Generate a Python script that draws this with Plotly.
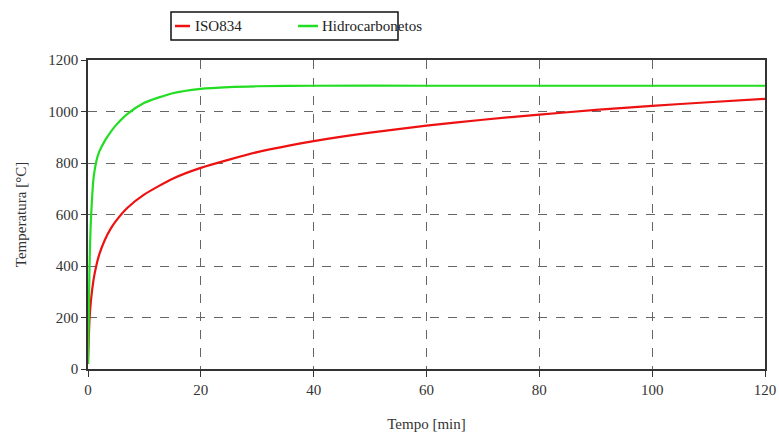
import plotly.graph_objects as go

# Tempo [min]
tempo_iso = [0, 0.25, 0.5, 1, 1.5, 2, 3, 4, 5, 7, 10, 15, 20, 30, 40, 50, 60, 70, 80, 90, 100, 110, 120]
temp_iso = [20, 185, 261, 349, 404, 445, 502, 544, 576, 626, 678, 739, 781, 842, 885, 918, 945, 968, 988, 1006, 1022, 1036, 1049]

tempo_hc = [0, 0.25, 0.5, 1, 1.5, 2, 3, 4, 5, 7, 10, 15, 20, 25, 30, 40, 60, 80, 100, 120]
temp_hc = [20, 373, 569, 744, 809, 844, 887, 920, 948, 991, 1034, 1071, 1088, 1095, 1098, 1100, 1100, 1100, 1100, 1100]

series_names = ["ISO834", "Hidrocarbonetos"]
series_colors = ["#ee1111", "#22dd22"]

x_ticks = [0, 20, 40, 60, 80, 100, 120]
y_ticks = [0, 200, 400, 600, 800, 1000, 1200]

font_family = "Times New Roman"

fig = go.Figure()
fig.add_trace(go.Scatter(x=tempo_iso, y=temp_iso, mode="lines", name=series_names[0],
                         line=dict(color=series_colors[0], width=2.2, shape="spline", smoothing=0.6)))
fig.add_trace(go.Scatter(x=tempo_hc, y=temp_hc, mode="lines", name=series_names[1],
                         line=dict(color=series_colors[1], width=2.2, shape="spline", smoothing=0.6)))

# Legend drawn manually (boxed, short line samples)
fig.add_shape(type="rect", xref="paper", yref="paper", x0=0.1226, x1=0.4579, y0=1.0647, y1=1.1553,
              line=dict(color="#111111", width=1.5), fillcolor="white")
legend_items = [(0.1285, 0.1507, 0.1551), (0.3102, 0.3397, 0.3427)]
for (lx0, lx1, tx), name, col in zip(legend_items, series_names, series_colors):
    fig.add_shape(type="line", xref="paper", yref="paper", x0=lx0, x1=lx1, y0=1.110, y1=1.110,
                  line=dict(color=col, width=2.5))
    fig.add_annotation(xref="paper", yref="paper", x=tx, y=1.110, text=name, showarrow=False,
                       xanchor="left", yanchor="middle",
                       font=dict(family=font_family, size=15, color="#222222"))

fig.update_layout(
    width=779, height=435,
    margin=dict(l=88, r=14, t=60, b=66),
    paper_bgcolor="white", plot_bgcolor="white",
    font=dict(family=font_family, size=15, color="#333333"),
    showlegend=False,
    xaxis=dict(range=[0, 120], tickvals=x_ticks, ticktext=[str(v) for v in x_ticks],
               showgrid=True, gridcolor="#666666", griddash="dash", gridwidth=1,
               showline=True, linecolor="#333333", linewidth=1.5, mirror=True,
               ticks="outside", ticklen=6, tickcolor="#333333", tickwidth=1.2,
               zeroline=False, automargin=False,
               title=dict(text="Tempo [min]", standoff=22, font=dict(size=15))),
    yaxis=dict(range=[0, 1200], tickvals=y_ticks, ticktext=[str(v) for v in y_ticks],
               showgrid=True, gridcolor="#666666", griddash="dash", gridwidth=1,
               showline=True, linecolor="#333333", linewidth=1.5, mirror=True,
               ticks="outside", ticklen=5, tickcolor="#333333", tickwidth=1.2,
               zeroline=False, automargin=False,
               title=dict(text="Temperatura [°C]", standoff=18, font=dict(size=15))),
)

fig.write_html("out.html")
